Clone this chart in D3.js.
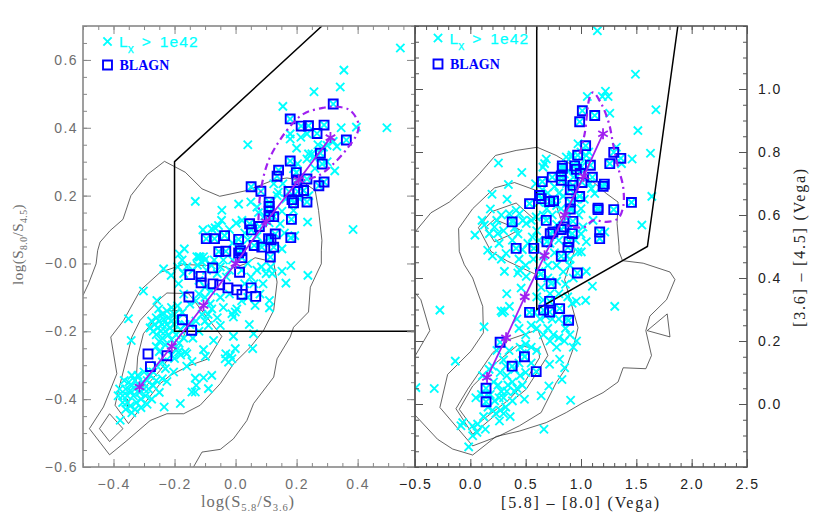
<!DOCTYPE html>
<html><head><meta charset="utf-8">
<script src="https://cdn.jsdelivr.net/npm/d3@7"></script>
<style>
html,body{margin:0;padding:0;background:#fff}
svg{display:block}
.tick text{font-family:"Liberation Sans",sans-serif;font-size:14px;letter-spacing:1.4px}
</style></head><body>
<svg id="c" width="830" height="519"></svg>
<script>
// ---------- tick values / labels ----------
const leftXTicks=[-0.4,-0.2,0,0.2,0.4];
const leftXLabels=["−0.4","−0.2","0.0","0.2","0.4"];
const leftYTicks=[0.6,0.4,0.2,0,-0.2,-0.4,-0.6];
const leftYLabels=["0.6","0.4","0.2","−0.0","−0.2","−0.4","−0.6"];
const rightXTicks=[-0.5,0,0.5,1,1.5,2,2.5];
const rightXLabels=["−0.5","0.0","0.5","1.0","1.5","2.0","2.5"];
const rightYTicks=[1,0.8,0.6,0.4,0.2,0];
const rightYLabels=["1.0","0.8","0.6","0.4","0.2","0.0"];
// ---------- left panel: log(S5.8/S3.6) vs log(S8.0/S4.5) ----------
const leftCross=[[.54,.635],[.355,.57],[.343,.52],[.257,.506],[.155,.463],[.04,.35],[.346,.4],[.396,.402],[.496,.4],[.332,.345],[.385,.1],[.325,.273],[-.132,.183],[-.045,.157],[.01,.175],[.05,.181],[-.046,.127],[-.056,.112],[-.067,.105],[-.107,.099],[-.078,.102],[.002,.119],[.021,.127],[.07,.166],[.125,.235],[.136,.2],[.236,.122],[.19,.156],[.152,.154],[.146,.117],[.194,.082],[.152,.043],[-.168,.043],[-.184,.028],[-.127,.02],[-.105,.02],[-.116,.019],[-.11,.004],[.179,.367],[.214,.372],[.234,.382],[.179,.382],[.3,.348],[.288,.343],[.239,.323],[.25,.323],[.234,.308],[.256,.313],[.203,.294],[.19,.279],[.155,.235],[.14,.21],[.095,.14],[.075,.15],[.06,.11],[.03,.09],[.04,.07],[-.02,.1],[-.01,.06],[.015,.05],[.07,.08],[.09,.06],[.11,.12],[.16,.09],[.165,.19],[.21,.19],[.24,.2],[.26,.28],[.28,.31],[.3,.3],[.32,.36],[.27,.35],[.2,.34],
[-.236,-.016],[-.211,-.035],[-.187,-.06],[-.252,-.134],[-.258,-.109],[.237,-.035],[.181,-.006],[.152,-.023],[.165,-.058],[.111,-.109],[.111,-.131],[.064,-.124],[.045,-.18],[.059,-.207],[.056,-.251],[-.001,-.251],[-.007,-.215],[-.032,-.266],[-.017,-.271],[-.034,-.281],[-.012,-.281],[-.023,-.291],[-.105,-.254],[-.099,-.274],[-.072,-.227],[-.089,-.183],[-.05,-.183],[-.007,-.158],[-.012,-.148],[.004,-.134],[-.001,-.143],[-.078,-.134],[-.083,-.119],[-.078,-.33],[-.105,-.337],[-.132,-.338],[-.143,-.379],[-.129,-.359],[-.089,-.369],[-.132,-.379],[-.234,-.423],[-.181,-.413],[-.16,-.303],[-.143,-.289],[-.203,-.32],[-.225,-.348],[-.165,-.261],[-.187,-.261],[-.16,-.266],[-.302,-.081],[-.351,-.163],[-.342,-.227],[-.378,-.462],
[-.19,-.01],[-.175,.01],[-.17,-.03],[-.16,-.01],[-.14,-.02],[-.12,.02],[-.125,-.005],[-.1,.01],[-.095,-.02],[-.08,-.005],[-.07,.01],[-.06,-.03],[-.05,-.01],[-.04,.01],[-.03,-.04],[-.02,-.02],[-.01,.01],[.02,-.02],[.04,0],[.05,-.04],[.07,-.02],[.085,-.01],[.1,-.03],[.115,-.01],[.12,-.03],[.09,-.06],[.08,-.09],[.06,-.06],[.03,-.06],[-.02,-.09],[-.05,-.1],[-.08,-.08],[-.1,-.07],[-.12,-.09],[-.13,-.11],[-.15,-.12],[-.17,-.09],[-.09,-.15],[-.06,-.16],[-.04,-.13],[.02,-.11],[.04,-.1],[-.1,-.1],[-.12,-.05],
[-.28,-.19],[-.275,-.17],[-.27,-.2],[-.265,-.18],[-.26,-.16],[-.26,-.21],[-.255,-.19],[-.25,-.17],[-.25,-.23],[-.245,-.2],[-.24,-.15],[-.24,-.18],[-.24,-.22],[-.235,-.165],[-.23,-.2],[-.23,-.24],[-.225,-.14],[-.225,-.18],[-.22,-.16],[-.22,-.21],[-.215,-.19],[-.21,-.13],[-.21,-.17],[-.21,-.225],[-.205,-.2],[-.2,-.15],[-.2,-.18],[-.195,-.21],[-.19,-.125],[-.19,-.165],[-.185,-.235],[-.18,-.195],[-.175,-.145],[-.17,-.22],[-.165,-.18],[-.26,-.245],[-.25,-.26],[-.24,-.29],[-.21,-.27],[-.2,-.28],[-.19,-.25],[-.18,-.27],[-.23,-.31],[-.27,-.32],[-.26,-.3],[-.15,-.18],[-.13,-.17],[-.12,-.2],[-.14,-.22],[-.11,-.15],[-.1,-.17],
[-.365,-.345],[-.36,-.37],[-.355,-.39],[-.35,-.35],[-.345,-.375],[-.34,-.33],[-.34,-.36],[-.335,-.39],[-.33,-.345],[-.33,-.37],[-.325,-.41],[-.32,-.33],[-.32,-.355],[-.315,-.38],[-.31,-.4],[-.305,-.35],[-.3,-.37],[-.3,-.32],[-.295,-.39],[-.29,-.345],[-.285,-.37],[-.28,-.33],[-.275,-.4],[-.27,-.36],[-.26,-.345],[-.25,-.38],[-.24,-.34],[-.37,-.41],[-.36,-.43],[-.345,-.42],[-.34,-.44],[-.33,-.43],[-.355,-.41],[-.31,-.425],[-.29,-.415],[-.38,-.37],[-.385,-.39],[-.37,-.39]];
const leftSquare=[[.32,.47],[.179,.426],[.215,.405],[.239,.406],[.267,.383],[.29,.408],[.363,.364],[.278,.325],[.284,.293],[.179,.302],[.141,.275],[.136,.257],[.199,.268],[.201,.246],[.234,.249],[.273,.229],[.29,.24],[.051,.226],[.083,.213],[.175,.212],[.204,.212],[.223,.215],[.185,.188],[.19,.179],[.234,.181],[.11,.181],[.11,.168],[.11,.153],[.11,.138],[.125,.138],[.183,.13],[.046,.117],[.052,.099],[.078,.109],[.13,.087],[.108,.073],[.116,.07],[.181,.076],[-.096,.073],[-.069,.073],[-.036,.082],[.01,.071],[.061,.053],[.086,.048],[.125,.048],[-.055,.035],[-.032,.036],[.016,.038],[.01,.031],[.114,.019],[.021,.017],[.013,-.026],[-.075,-.013],[-.15,-.033],[-.113,-.038],[-.113,-.057],[-.074,-.06],[-.052,-.063],[-.025,-.072],[.004,-.078],[.021,-.091],[.051,-.072],[.066,-.097],[-.153,-.099],[-.174,-.166],[-.144,-.197],[-.287,-.267],[-.225,-.272],[-.279,-.304]];
const leftMedian=[[-.315,-.364],[-.209,-.244],[-.105,-.124],[0,0],[.1,.123],[.207,.246],[.311,.371]];
const leftEllipse=[[.075,.127],[.081,.205],[.108,.303],[.168,.392],[.223,.441],[.289,.459],[.332,.462],[.376,.451],[.403,.411],[.398,.382],[.365,.338],[.321,.294],[.272,.259],[.223,.246]];
const leftWedge=[[.283,.7],[-.2,.3],[-.2,-.2],[.59,-.2]];
const leftContours=[
 [[-.5,-.094],[-.482,-.06],[-.457,-.001],[-.452,.038],[-.444,.063],[-.411,.097],[-.369,.13],[-.343,.2],[-.289,.262],[-.233,.301],[-.165,.269],[-.11,.22],[-.052,.198],[.037,.215],[.125,.246],[.168,.252],[.212,.246],[.261,.215],[.272,.156],[.283,.068],[.281,.038],[.281,-.001],[.245,-.07],[.239,-.143],[.19,-.188],[.179,-.217],[.136,-.281],[.125,-.335],[.059,-.413],[.037,-.463],[-.007,-.517],[-.05,-.548],[-.11,-.556],[-.138,-.6]],
 [[-.247,-.026],[-.17,-.003],[-.094,-.006],[-.061,-.003],[-.017,-.016],[.032,-.001],[.064,.017],[.125,.004],[.136,-.055],[.125,-.138],[.092,-.197],[.048,-.247],[-.007,-.296],[-.05,-.354],[-.116,-.418],[-.17,-.443],[-.225,-.443],[-.28,-.463],[-.356,-.522],[-.413,-.564],[-.479,-.487],[-.433,-.423],[-.389,-.325],[-.409,-.217],[-.367,-.168],[-.313,-.08],[-.247,-.026]],
 [[-.225,-.087],[-.154,-.089],[-.045,-.215],[-.089,-.281],[-.149,-.3],[-.214,-.33],[-.247,-.354],[-.351,-.472],[-.395,-.418],[-.378,-.354],[-.34,-.217],[-.313,-.168],[-.247,-.104],[-.225,-.087]],
 [[-.231,-.14],[-.176,-.138],[-.154,-.173],[-.17,-.215],[-.247,-.315],[-.291,-.359],[-.313,-.364],[-.326,-.35],[-.321,-.276],[-.302,-.207],[-.258,-.158],[-.231,-.14]],
 [[-.413,-.443],[-.369,-.487],[-.413,-.525],[-.446,-.487],[-.413,-.443]],
 [[-.356,-.399],[-.349,-.408],[-.353,-.423],[-.356,-.413],[-.356,-.399]]
];
// ---------- right panel: [5.8]-[8.0] vs [3.6]-[4.5] ----------
const rightCross=[[1.148,1.185],[1.492,1.047],[1.677,.934],[1.514,.868],[1.628,.796],[1.462,.778],[1.221,.993],[1.193,.976],[1.245,.976],[1.057,.976],[1.26,.923],[1.64,.659],[1.55,.568],[.254,.765],[.465,.735],[.344,.697],[.196,.666],[.332,.65],[.181,.619],[.042,.536],[.106,.583],[.127,.568],[.218,.562],[.239,.583],[.172,.541],[.248,.541],[.157,.488],[.323,.478],[.353,.604],[.414,.615],[.474,.583],[.505,.573],[.55,.583],[.595,.594],[.384,.583],[.444,.604],[.589,.699],[.671,.763],[.686,.778],[.656,.752],[.867,.784],[.912,.784],[1.048,.789],[1.32,.815],[1.366,.763],[.973,.826],[1.094,.684],[1.124,.668],[1.079,.699],[1.109,.583],[1.018,.562],[1.215,.546],[1.048,.515],[1.003,.483],[.973,.483],[-.275,.298],[-.492,.052],[-.326,.049],[-.136,.136],[.124,.245],[1.305,.31],[1.103,.374],[1.042,.329],[.958,.326],[1.048,.421],[.665,-.08],[.906,.012],[.489,.015],[.64,.026],[.828,.078],[.71,.057],[-.015,-.136],[.021,-.101],[-.069,-.059],[-.085,-.069],[.066,-.064],[.136,-.08],[.263,-.054],[.308,.421],[.444,.426],[.505,.405],[.429,.416],[.329,.35],[.459,.368],[.353,.31],[.278,.295],[.308,.295],[.29,.29],[.716,.126],[.807,.142],[.852,.115],
[.28,.6],[.3,.55],[.26,.51],[.4,.56],[.43,.54],[.47,.49],[.52,.51],[.56,.53],[.6,.55],[.38,.52],[.44,.46],[.5,.44],[.28,.46],[.2,.47],
[.62,.64],[.66,.6],[.69,.62],[.74,.6],[.78,.63],[.8,.67],[.84,.66],[.87,.7],[.89,.74],[.93,.72],[.96,.77],[.99,.76],[1.02,.74],[1.05,.77],[1.07,.8],[1,.8],[.92,.79],[.85,.73],[.76,.69],[.7,.67],[.65,.68],[.95,.65],[1,.62],[1.03,.65],[.98,.6],[.92,.62],[.87,.59],[.82,.62],[.78,.57],[.72,.51],[.76,.48],[.8,.52],[.88,.55],[.95,.52],[1,.54],[.62,.52],[.66,.47],[.57,.46],[.87,.47],[.9,.46],
[.62,.42],[.7,.44],[.78,.44],[.84,.42],[.9,.44],[.93,.4],[.86,.38],[.78,.39],[.7,.4],[.64,.37],[.6,.34],[.66,.33],[.72,.35],[.8,.35],[.88,.34],[.92,.32],[.58,.29],[.63,.27],[.68,.28],[.74,.27],[.8,.27],[.86,.24],[.7,.24],[.66,.22],[.6,.24],[.55,.25],[.5,.22],[.44,.24],[.42,.27],[.75,.22],[.8,.21],[.85,.2],[.9,.22],[.93,.18],[.78,.18],[.72,.2],[.87,.27],[.96,.2],
[.55,.18],[.6,.17],[.55,.13],[.5,.19],[.47,.16],[.44,.13],[.5,.1],[.45,.09],[.4,.11],[.38,.07],[.33,.09],[.3,.14],[.27,.1],[.25,.06],[.28,.04],[.33,.04],[.38,.01],[.42,.05],[.47,.06],[.35,.17],[.2,.12],[.24,.17],[.22,.01],[.18,.03],[.16,-.01],[.23,-.03],[.27,-.02],[.32,-.01],[.36,-.04],[.3,.02],[.2,-.02],[.26,.02],[.34,.06],[.4,.04],[.21,.07],[.3,-.03],[.15,.03],[.1,.03],[.05,.02],[.11,.09],[.17,.11],[.06,-.09],[.02,-.07],[.12,-.04],[.45,.18],[.32,.12]];
const rightSquare=[[1.012,.931],[.988,.896],[1.124,.916],[1.042,.82],[.97,.79],[1.296,.799],[1.36,.78],[1.26,.763],[1.085,.758],[.831,.756],[.831,.748],[.943,.756],[.958,.745],[.994,.732],[.822,.724],[.822,.71],[.74,.72],[1.103,.72],[.65,.706],[.927,.694],[1.009,.703],[1.211,.698],[1.2,.691],[.903,.68],[.988,.659],[.625,.662],[.64,.652],[.716,.643],[.752,.645],[.535,.636],[.903,.641],[.903,.619],[1.154,.622],[1.154,.617],[1.296,.617],[1.456,.64],[.686,.583],[.378,.578],[.927,.58],[.846,.562],[.822,.554],[.746,.546],[.722,.541],[.921,.541],[1.169,.546],[1.169,.525],[.692,.515],[.891,.515],[.882,.497],[.414,.494],[.574,.494],[.822,.469],[.634,.411],[.967,.416],[.73,.382],[.716,.326],[.807,.303],[.662,.298],[.716,.292],[.535,.291],[.888,.266],[.269,.196],[.489,.15],[.378,.12],[.595,.103],[.142,.05],[.142,.007]];
const rightMedian=[[.151,.084],[.323,.21],[.492,.34],[.671,.471],[.852,.6],[1.024,.723],[1.199,.858]];
const rightEllipse=[[.988,.794],[1.033,.858],[1.079,.974],[1.109,.989],[1.184,.953],[1.254,.889],[1.29,.826],[1.335,.752],[1.381,.689],[1.381,.626],[1.335,.589],[1.23,.578],[1.109,.583],[1.033,.562],[.927,.562],[.837,.573]];
const rightWedge=[[.6,1.2],[.6,.3],[1.6,.5],[1.875,1.2]];
const rightContours=[
 [[-.5,.546],[-.356,.607],[-.19,.641],[-.024,.692],[.082,.731],[.227,.789],[.414,.805],[.604,.815],[.776,.789],[.973,.747],[1.094,.71],[1.23,.668],[1.335,.641],[1.326,.573],[1.344,.499],[1.344,.484],[1.375,.455],[1.562,.447],[1.804,.419],[1.849,.395],[1.773,.331],[1.622,.279],[1.586,.233],[1.637,.154],[1.586,.112],[1.381,.115],[1.335,.07],[1.199,.036],[1.018,.004],[.867,-.027],[.686,-.059],[.444,-.086],[.233,-.103],[.021,-.162],[-.16,-.143],[-.296,-.112],[-.5,-.035]],
 [[-.5,.353],[-.447,.331],[-.366,.233],[-.5,.152]],
 [[1.598,.233],[1.779,.286],[1.804,.213],[1.598,.233]],
 [[-.106,.557],[.021,.62],[.218,.686],[.399,.703],[.595,.678],[.776,.631],[.822,.583],[.943,.488],[.852,.395],[.973,.242],[.927,.173],[.867,.115],[.776,.068],[.64,-.027],[.444,-.069],[.263,-.101],[.021,-.133],[-.275,-.011],[-.205,.094],[.006,.168],[.118,.226],[.112,.31],[.021,.4],[-.054,.442],[-.1,.484],[-.106,.557]],
 [[.073,.56],[.187,.61],[.414,.638],[.604,.578],[.61,.499],[.595,.411],[.338,.453],[.187,.484],[.073,.56]],
 [[.136,.56],[.218,.586],[.444,.554],[.353,.536],[.218,.515],[.136,.56]],
 [[.61,.236],[.701,.154],[.505,.047],[.021,-.096],[-.13,-.015],[-.024,.047],[.202,.163],[.353,.205],[.61,.236]],
 [[.429,.187],[.619,.173],[.625,.147],[.489,.068],[.353,.015],[.021,-.075],[-.1,-.017],[.021,.057],[.233,.131],[.429,.187]]
];
const legendLabels=["BLAGN"];

// ---------- drawing ----------
const svg=d3.select("#c");
const CY="#00ffff",BL="#0000ff",PU="#a020f0";
const crossSym=d3.symbol().type(d3.symbolTimes).size(46)();
const squareSym=d3.symbol().type(d3.symbolSquare).size(80)();
const starSym=d3.symbol().type(d3.symbolAsterisk).size(85)();
const defs=svg.append("defs");

function panel(o){
 const x=d3.scaleLinear().domain(o.xd).range([o.x0,o.x1]);
 const y=d3.scaleLinear().domain(o.yd).range([467,26]);
 defs.append("clipPath").attr("id",o.id).append("rect").attr("x",o.x0).attr("y",26).attr("width",o.x1-o.x0).attr("height",441);
 const g=svg.append("g");
 const plot=g.append("g").attr("clip-path",`url(#${o.id})`);
 const line=d3.line().x(d=>x(d[0])).y(d=>y(d[1]));
 plot.selectAll("path.ct").data(o.contours).join("path").attr("class","ct").attr("d",line)
   .attr("fill","none").attr("stroke","#222").attr("stroke-width",.7);
 // BLAGN that are also X-ray sources carry a cross inside their square
 plot.selectAll("path.cr").data(o.cross.concat(o.square.filter(o.crossed))).join("path").attr("class","cr").attr("d",crossSym)
   .attr("transform",d=>`translate(${x(d[0])},${y(d[1])})`).attr("fill","none").attr("stroke",CY).attr("stroke-width",1.9);
 plot.append("path").attr("d",line(o.wedge)).attr("fill","none").attr("stroke","#000").attr("stroke-width",1.5);
 plot.selectAll("path.sq").data(o.square).join("path").attr("class","sq").attr("d",squareSym)
   .attr("transform",d=>`translate(${x(d[0])},${y(d[1])})`).attr("fill","none").attr("stroke",BL).attr("stroke-width",1.9);
 plot.append("path").attr("d",line.curve(d3.curveCatmullRom)(o.ellipse)).attr("fill","none").attr("stroke",PU).attr("stroke-width",2.2).attr("stroke-dasharray","7 4 2 4");
 line.curve(d3.curveLinear);
 plot.append("path").attr("d",line(o.median)).attr("fill","none").attr("stroke",PU).attr("stroke-width",1.8);
 plot.selectAll("path.md").data(o.median).join("path").attr("class","md").attr("d",starSym)
   .attr("transform",d=>`translate(${x(d[0])},${y(d[1])})`).attr("fill","none").attr("stroke",PU).attr("stroke-width",1.8);
 // axes: ticks point inward (negative size), labels sit outside by padding
 const mk=(axis,scale,major,minor,labels,tr,pad)=>{
   const a=g.append("g").attr("transform",tr).attr("color",o.axisColor);
   a.call(axis(scale).tickValues(minor).tickSize(-4).tickFormat(""));
   a.select(".domain").remove();
   a.selectAll("text").remove();
   const b=g.append("g").attr("transform",tr).attr("color",o.axisColor);
   b.call(axis(scale).tickValues(major).tickSize(-8).tickPadding(pad).tickFormat((d,i)=>labels?labels[i]:""));
   b.select(".domain").remove();
   b.selectAll("text").attr("fill",o.labelColor);
 };
 mk(d3.axisBottom,x,o.xMajor,o.xMinor,o.xLabels,"translate(0,467)",12);
 mk(d3.axisTop,x,o.xMajor,o.xMinor,null,"translate(0,26)",0);
 mk(d3.axisLeft,y,o.yMajor,o.yMinor,o.yLeft,`translate(${o.x0},0)`,5);
 mk(d3.axisRight,y,o.yMajor,o.yMinor,o.yRight,`translate(${o.x1},0)`,11);
 g.append("rect").attr("x",o.x0).attr("y",26).attr("width",o.x1-o.x0).attr("height",441).attr("fill","none").attr("stroke",o.axisColor).attr("stroke-width",1.6);
 // legend
 const lg=g.append("g");
 lg.append("path").attr("d",crossSym).attr("transform",`translate(${o.lx},${o.ly})`).attr("fill","none").attr("stroke",CY).attr("stroke-width",1.9);
 const t=lg.append("text").attr("x",o.lx+11.5).attr("y",o.ly+5.5).attr("fill",CY).attr("stroke",CY).attr("stroke-width",.25).attr("font-family","Liberation Sans").attr("font-size",15.5);
 t.append("tspan").text("L");
 t.append("tspan").attr("dy",6).attr("font-size",12).text("x");
 t.append("tspan").attr("dy",-6).attr("dx",8).attr("letter-spacing",1.1).text(">");
 t.append("tspan").attr("dx",8).attr("letter-spacing",1.1).text("1e42");
 lg.append("path").attr("d",squareSym).attr("transform",`translate(${o.lx},${o.sy})`).attr("fill","none").attr("stroke",BL).attr("stroke-width",1.9);
 lg.append("text").attr("x",o.lx+12).attr("y",o.sy+5).attr("fill",BL).attr("font-family","Liberation Serif").attr("font-weight","bold").attr("font-size",14).text(legendLabels[0]);
 return {x,y};
}
const seq=(a,b,s)=>d3.range(Math.round((b-a)/s)+1).map(i=>+(a+i*s).toFixed(3));
panel({id:"p1",xd:[-0.5,0.588],yd:[-0.6,0.7],x0:83,x1:415,cross:leftCross,square:leftSquare,crossed:d=>d[1]>0,median:leftMedian,ellipse:leftEllipse,wedge:leftWedge,contours:leftContours,
 xMajor:leftXTicks,xMinor:seq(-0.5,0.55,0.05),xLabels:leftXLabels,yMajor:leftYTicks,yMinor:seq(-0.6,0.7,0.05),yLeft:leftYLabels,yRight:null,
 axisColor:"#888",labelColor:"#6e6e6e",lx:107.5,ly:41.5,sy:65});
panel({id:"p2",xd:[-0.5,2.5],yd:[-0.2,1.2],x0:415,x1:747,cross:rightCross,square:rightSquare,crossed:d=>true,median:rightMedian,ellipse:rightEllipse,wedge:rightWedge,contours:rightContours,
 xMajor:rightXTicks,xMinor:seq(-0.5,2.5,0.1),xLabels:rightXLabels,yMajor:rightYTicks,yMinor:seq(-0.2,1.2,0.05),yLeft:null,yRight:rightYLabels,
 axisColor:"#555",labelColor:"#222",lx:438,ly:38,sy:64});

// axis titles
const ttl=(sel,parts,col,fs,ls)=>{
 const t=sel.attr("fill",col).attr("font-family","Liberation Serif").attr("font-size",fs).attr("letter-spacing",ls);
 parts.forEach(p=>{const s=t.append("tspan").text(p[0]);
   if(p[1]){s.attr("font-size",fs*.64).attr("dy",p[1]);}else if(p[2]){s.attr("dy",p[2]);}});
};
ttl(svg.append("text").attr("x",201).attr("y",507),[["log(S"],[ "5.8",4],["/S",0,-4],["3.6",4],[")",0,-4]],"#6e6e6e",16.5,.9);
ttl(svg.append("text").attr("transform","translate(23,285) rotate(-90)"),[["log(S"],["8.0",4],["/S",0,-4],["4.5",4],[")",0,-4]],"#6e6e6e",15,.5);
svg.append("text").attr("x",581).attr("y",508).attr("text-anchor","middle").attr("fill","#222").attr("font-family","Liberation Serif").attr("font-size",16).attr("letter-spacing",1.8).text("[5.8] – [8.0] (Vega)");
svg.append("text").attr("transform","translate(805,247) rotate(-90)").attr("text-anchor","middle").attr("fill","#222").attr("font-family","Liberation Serif").attr("font-size",16).attr("letter-spacing",1.8).text("[3.6] – [4.5] (Vega)");
</script>
</body></html>
